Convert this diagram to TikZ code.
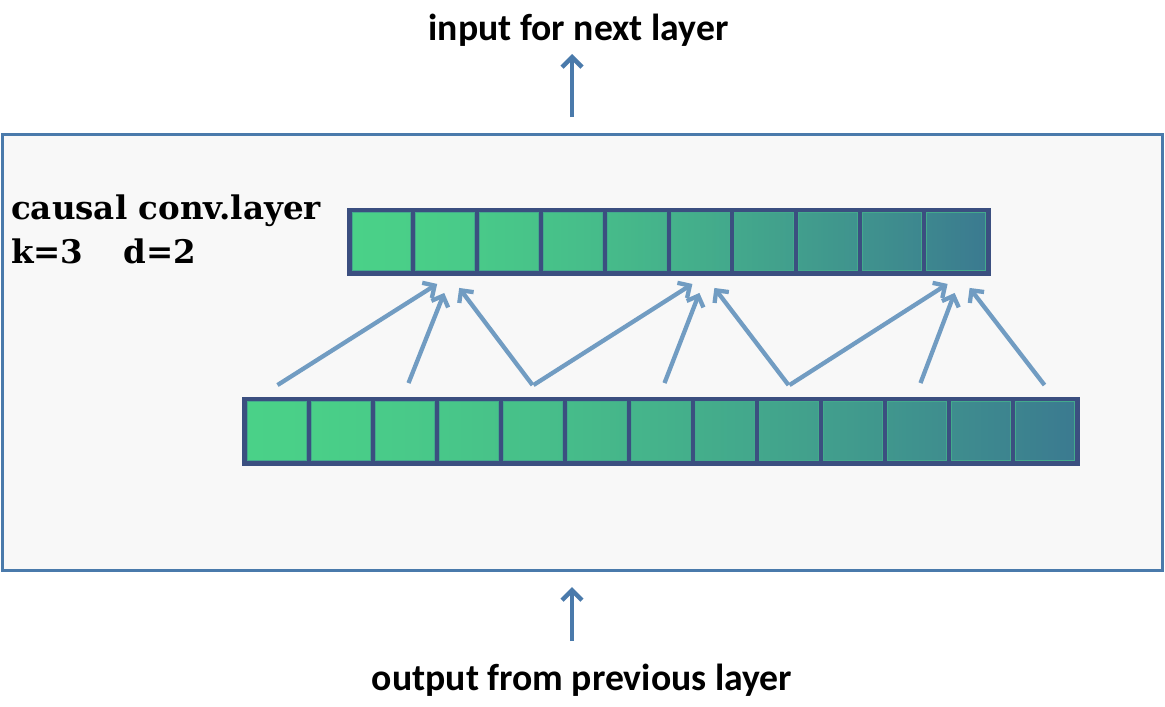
\documentclass[tikz,border=0pt]{standalone}
\usepackage{fontspec}
\setmainfont{DejaVu Serif}
\newfontfamily\capfont{Carlito}
\usetikzlibrary{arrows.meta,calc}
\definecolor{framecol}{HTML}{4A7AAB}
\definecolor{bgcol}{HTML}{F8F8F8}
\definecolor{navy}{HTML}{3B4F80}
\definecolor{cG}{HTML}{4AD188}
\definecolor{cT}{HTML}{3B7A90}
\definecolor{conncol}{HTML}{719CC2}
\begin{document}
\begin{tikzpicture}[x=1pt,y=-1pt,
  framebox/.style={draw=framecol, line width=3.5pt, fill=bgcol, inner sep=0pt},
  barbox/.style={draw=navy, fill=navy, line width=1pt, inner sep=0pt},
  cellbox/.style={draw=cT!45!cG, line width=0.9pt, inner sep=0pt, minimum width=58.8pt, minimum height=58pt},
  conn/.style={draw=conncol, line width=4.3pt, -{Straight Barb[length=9pt,width=18pt]}},
  vert/.style={draw=framecol, line width=4.5pt, -{Straight Barb[length=10pt,width=20pt]}},
  captxt/.style={font=\capfont\bfseries\fontsize{37.7}{44}\selectfont, inner sep=0pt},
  lbltxt/.style={font=\bfseries\fontsize{32.5}{44}\selectfont, align=left, inner sep=0pt}
]
\useasboundingbox (0,0) rectangle (1165,707);
\fill[white] (0,0) rectangle (1165,707);
\node[framebox, minimum width=1160pt, minimum height=436pt] (frame) at (582.5,352.5) {};
% top bar
\node[barbox, minimum width=643pt, minimum height=67pt] (topbar) at (668.5,241.5) {};
\foreach \i in {1,...,10}{
  \pgfmathsetmacro\pa{100-100*((\i-1)/10)^1.5}
  \pgfmathsetmacro\pb{100-100*(\i/10)^1.5}
  \pgfmathsetmacro\cx{347+5+(\i-1)*63.8+29.4}
  \node[cellbox, left color=cG!\pa!cT, right color=cG!\pb!cT] (t\i) at (\cx,241.5) {};
}
% bottom bar
\node[barbox, minimum width=837pt, minimum height=68pt] (botbar) at (660.5,431) {};
\foreach \i in {1,...,13}{
  \pgfmathsetmacro\pa{100-100*((\i-1)/13)^1.5}
  \pgfmathsetmacro\pb{100-100*(\i/13)^1.5}
  \pgfmathsetmacro\cx{242+5+(\i-1)*64+29.5}
  \node[cellbox, minimum width=59pt, minimum height=59pt, left color=cG!\pa!cT, right color=cG!\pb!cT] (b\i) at (\cx,431) {};
}
% texts
\node[captxt] (intxt) at (578.5,30) {input for next layer};
\node[captxt] (outtxt) at (582,680) {output from previous layer};
\node[lbltxt, anchor=base west] (lbl) at (11,263) {causal conv.layer\\k=3\hspace{40pt}d=2};
% vertical arrows
\coordinate (upS) at (572,117);
\coordinate (upE) at (572,54);
\coordinate (dnS) at (572,641);
\coordinate (dnE) at (572,587);
\draw[vert] (upS) -- (upE);
\draw[vert] (dnS) -- (dnE);
% dilated connections
\foreach \g/\ta/\tb/\tc/\tt in {1/1/3/5/2, 2/5/7/9/6, 3/9/11/13/10}{
  \coordinate (s\g a) at ($(b\ta.north)+(1,-16)$);
  \coordinate (s\g b) at ($(b\tb.north)+(4,-18)$);
  \coordinate (s\g c) at ($(b\tc.north)+(0,-16)$);
  \coordinate (h\g a) at ($(t\tt.south)+(-8,13)$);
  \coordinate (h\g b) at ($(t\tt.south)+(-1,22)$);
  \coordinate (h\g c) at ($(t\tt.south)+(14,17)$);
  \draw[conn] (s\g a) -- (h\g a);
  \draw[conn] (s\g b) -- (h\g b);
  \draw[conn] (s\g c) -- (h\g c);
}
\end{tikzpicture}
\end{document}
